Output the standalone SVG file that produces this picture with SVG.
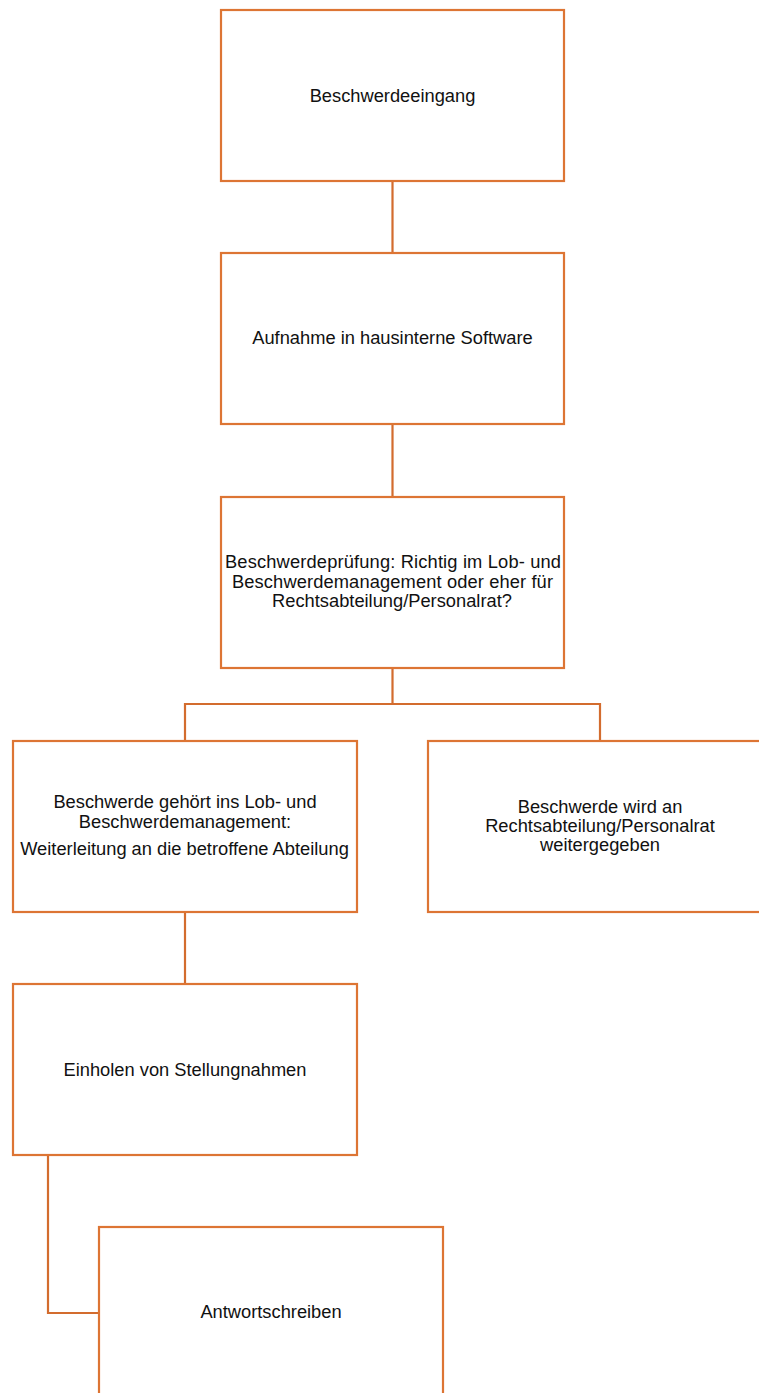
<svg xmlns="http://www.w3.org/2000/svg" width="759" height="1393" viewBox="0 0 759 1393">
<style>
.box{fill:#ffffff;stroke:#DD7534;stroke-width:2.2}
.con{fill:none;stroke:#D36C2E;stroke-width:2.2}
.t{font-family:"Liberation Sans",Arial,sans-serif;font-size:18.3px;fill:#111111;text-anchor:middle}
</style>
<rect width="759" height="1393" fill="#ffffff"/>
<g id="connectors">
<line class="con" x1="392.5" y1="181" x2="392.5" y2="253"/>
<line class="con" x1="392.5" y1="424" x2="392.5" y2="497"/>
<polyline class="con" points="392.5,668 392.5,704"/>
<polyline class="con" points="185,741 185,704 600,704 600,741"/>
<line class="con" x1="185" y1="912" x2="185" y2="984"/>
<polyline class="con" points="48,1155 48,1313 99,1313"/>
</g>
<g id="n1">
<rect class="box" x="221" y="10" width="343" height="171"/>
<text class="t" x="392.5" y="102">Beschwerdeeingang</text>
</g>
<g id="n2">
<rect class="box" x="221" y="253" width="343" height="171"/>
<text class="t" x="392.5" y="344">Aufnahme in hausinterne Software</text>
</g>
<g id="n3">
<rect class="box" x="221" y="497" width="343" height="171"/>
<text class="t" x="393" y="568" textLength="336" lengthAdjust="spacing">Beschwerdeprüfung: Richtig im Lob- und</text>
<text class="t" x="392.5" y="588" textLength="321" lengthAdjust="spacing">Beschwerdemanagement oder eher für</text>
<text class="t" x="392" y="607">Rechtsabteilung/Personalrat?</text>
</g>
<g id="n4">
<rect class="box" x="13" y="741" width="344" height="171"/>
<text class="t" x="185" y="808">Beschwerde gehört ins Lob- und</text>
<text class="t" x="185" y="828">Beschwerdemanagement:</text>
<text class="t" x="184.5" y="855">Weiterleitung an die betroffene Abteilung</text>
</g>
<g id="n5">
<rect class="box" x="428" y="741" width="344" height="171"/>
<text class="t" x="600" y="813">Beschwerde wird an</text>
<text class="t" x="600" y="832">Rechtsabteilung/Personalrat</text>
<text class="t" x="600" y="851">weitergegeben</text>
</g>
<g id="n6">
<rect class="box" x="13" y="984" width="344" height="171"/>
<text class="t" x="185" y="1076">Einholen von Stellungnahmen</text>
</g>
<g id="n7">
<rect class="box" x="99" y="1227" width="344" height="171"/>
<text class="t" x="271" y="1318">Antwortschreiben</text>
</g>
</svg>
